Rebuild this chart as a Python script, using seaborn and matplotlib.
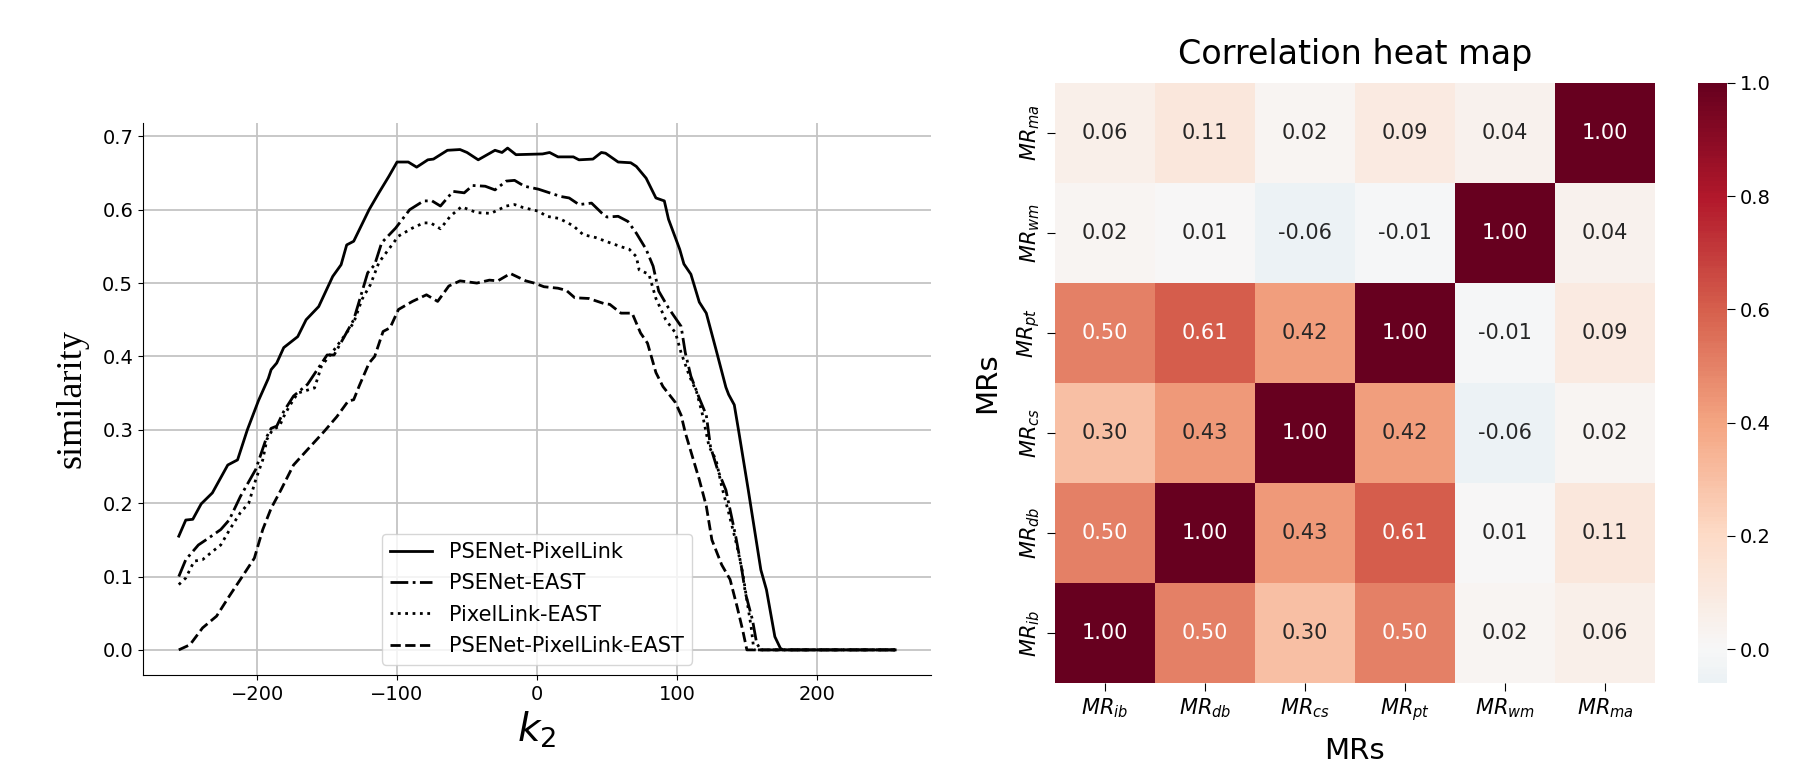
import matplotlib
matplotlib.use("Agg")
import matplotlib.pyplot as plt
import numpy as np
import pandas as pd
import seaborn as sns

# --- left panel: similarity vs k2 ---
pp_k = [-256, -251, -246, -240, -232, -221, -214, -207, -199, -192, -190, -186, -181, -171, -165, -156,
        -146, -140, -136, -131, -120, -113, -106, -100, -92, -86, -78, -74, -64, -55, -50, -42, -30, -25,
        -21, -15, 4, 9, 15, 26, 30, 40, 46, 49, 58, 67, 71, 78, 85, 91, 94, 102, 105, 110, 116, 121,
        128, 135, 137, 141, 144, 151, 160, 164, 170, 174, 176, 256]
pp_sim = [0.155, 0.177, 0.178, 0.199, 0.214, 0.252, 0.259, 0.300, 0.340, 0.370, 0.382, 0.391, 0.412,
          0.427, 0.450, 0.468, 0.509, 0.525, 0.552, 0.557, 0.600, 0.623, 0.645, 0.665, 0.665, 0.658,
          0.668, 0.669, 0.681, 0.682, 0.678, 0.668, 0.681, 0.678, 0.684, 0.675, 0.676, 0.678, 0.672,
          0.672, 0.668, 0.669, 0.678, 0.677, 0.665, 0.664, 0.659, 0.643, 0.616, 0.612, 0.587, 0.546,
          0.526, 0.512, 0.474, 0.459, 0.409, 0.358, 0.348, 0.334, 0.300, 0.218, 0.109, 0.082, 0.018,
          0.002, 0.0, 0.0]

pe_k = [-256, -251, -242, -235, -226, -220, -212, -201, -193, -190, -186, -181, -174, -164, -150, -145,
        -131, -126, -121, -116, -111, -101, -91, -81, -75, -69, -60, -52, -46, -37, -30, -22, -16, -9,
        1, 9, 17, 23, 30, 39, 46, 50, 58, 65, 71, 78, 83, 87, 94, 103, 106, 110, 116, 121, 124, 129,
        135, 138, 142, 146, 149, 154, 157, 160, 256]
pe_sim = [0.100, 0.123, 0.143, 0.152, 0.164, 0.177, 0.209, 0.246, 0.291, 0.302, 0.305, 0.325, 0.346,
          0.362, 0.402, 0.402, 0.450, 0.482, 0.514, 0.525, 0.555, 0.575, 0.600, 0.612, 0.612, 0.605,
          0.625, 0.623, 0.633, 0.632, 0.627, 0.639, 0.640, 0.632, 0.628, 0.623, 0.618, 0.616, 0.607,
          0.609, 0.596, 0.590, 0.591, 0.584, 0.568, 0.546, 0.523, 0.489, 0.466, 0.441, 0.405, 0.373,
          0.343, 0.320, 0.277, 0.246, 0.218, 0.191, 0.155, 0.114, 0.077, 0.041, 0.009, 0.0, 0.0]

le_k = [-256, -251, -245, -239, -232, -226, -219, -212, -206, -201, -196, -193, -189, -184, -181, -177,
        -171, -159, -154, -145, -138, -131, -125, -119, -113, -106, -99, -89, -81, -76, -69, -62, -54,
        -43, -33, -22, -16, -10, 1, 7, 16, 26, 33, 42, 52, 61, 66, 71, 73, 80, 85, 92, 99, 103, 109,
        114, 118, 123, 128, 132, 137, 143, 147, 150, 153, 155, 256]
le_sim = [0.089, 0.098, 0.121, 0.123, 0.134, 0.143, 0.166, 0.187, 0.200, 0.232, 0.259, 0.287, 0.300,
          0.305, 0.318, 0.332, 0.350, 0.357, 0.387, 0.409, 0.427, 0.446, 0.478, 0.498, 0.528, 0.546,
          0.564, 0.575, 0.582, 0.582, 0.574, 0.591, 0.604, 0.596, 0.595, 0.605, 0.607, 0.603, 0.598,
          0.591, 0.588, 0.578, 0.566, 0.562, 0.555, 0.549, 0.546, 0.536, 0.518, 0.512, 0.479, 0.450,
          0.432, 0.405, 0.373, 0.352, 0.323, 0.277, 0.259, 0.223, 0.187, 0.141, 0.105, 0.068, 0.032,
          0.0, 0.0]

ple_k = [-256, -248, -239, -229, -220, -212, -202, -196, -190, -183, -174, -164, -152, -143, -135, -131,
         -127, -120, -116, -110, -105, -99, -89, -79, -71, -63, -55, -43, -34, -28, -19, -8, -2, 5, 15,
         21, 27, 37, 48, 52, 60, 68, 74, 79, 85, 90, 99, 103, 106, 111, 116, 121, 125, 132, 138, 143,
         147, 150, 256]
ple_sim = [0.0, 0.007, 0.030, 0.046, 0.073, 0.096, 0.125, 0.164, 0.193, 0.218, 0.252, 0.273, 0.298,
           0.318, 0.339, 0.341, 0.360, 0.391, 0.400, 0.434, 0.439, 0.464, 0.475, 0.484, 0.475, 0.496,
           0.503, 0.500, 0.504, 0.503, 0.513, 0.503, 0.500, 0.495, 0.493, 0.490, 0.480, 0.479, 0.472,
           0.471, 0.459, 0.459, 0.432, 0.418, 0.378, 0.359, 0.337, 0.320, 0.296, 0.264, 0.232, 0.196,
           0.150, 0.116, 0.096, 0.059, 0.027, 0.0, 0.0]

series_names = ["PSENet-PixelLink", "PSENet-EAST", "PixelLink-EAST", "PSENet-PixelLink-EAST"]

# --- right panel: correlation matrix ---
mr_labels = ["$MR_{ib}$", "$MR_{db}$", "$MR_{cs}$", "$MR_{pt}$", "$MR_{wm}$", "$MR_{ma}$"]
corr_ib = [1.00, 0.50, 0.30, 0.50, 0.02, 0.06]
corr_db = [0.50, 1.00, 0.43, 0.61, 0.01, 0.11]
corr_cs = [0.30, 0.43, 1.00, 0.42, -0.06, 0.02]
corr_pt = [0.50, 0.61, 0.42, 1.00, -0.01, 0.09]
corr_wm = [0.02, 0.01, -0.06, -0.01, 1.00, 0.04]
corr_ma = [0.06, 0.11, 0.02, 0.09, 0.04, 1.00]

fig = plt.figure(figsize=(18.12, 7.62), dpi=100)
ax1 = fig.add_axes([0.0789, 0.1142, 0.4349, 0.7244])
ax2 = fig.add_axes([0.5822, 0.1037, 0.3311, 0.7874])
cax = fig.add_axes([0.9371, 0.1037, 0.016, 0.7874])

line_data = [(pp_k, pp_sim, "-"), (pe_k, pe_sim, "-."), (le_k, le_sim, ":"), (ple_k, ple_sim, "--")]
for name, (k, sim, ls) in zip(series_names, line_data):
    sns.lineplot(x=k, y=sim, ax=ax1, color="k", lw=2, linestyle=ls, label=name, estimator=None)

ax1.legend(loc="lower center", fontsize=15, labelspacing=0.55)
ax1.set_xticks([-200, -100, 0, 100, 200])
ax1.set_yticks([0.0, 0.1, 0.2, 0.3, 0.4, 0.5, 0.6, 0.7])
ax1.grid(True, color="#c4c4c4", lw=1.3)
ax1.set_axisbelow(True)
ax1.spines["top"].set_visible(False)
ax1.spines["right"].set_visible(False)
ax1.tick_params(labelsize=14)
ax1.set_xlabel("$k_2$", fontsize=28)
ax1.set_ylabel("similarity", family="Liberation Serif", fontsize=26, labelpad=10)

corr = pd.DataFrame([corr_ib, corr_db, corr_cs, corr_pt, corr_wm, corr_ma],
                    index=mr_labels, columns=mr_labels)
# ib row at the bottom, as in the reference
sns.heatmap(corr.iloc[::-1], ax=ax2, cbar_ax=cax, cmap="RdBu_r", center=0,
            annot=True, fmt=".2f", annot_kws={"fontsize": 15})
ax2.set_title("Correlation heat map", fontsize=24, pad=14)
ax2.set_xlabel("MRs", fontsize=21, labelpad=10)
ax2.set_ylabel("MRs", fontsize=21, labelpad=10)
ax2.tick_params(labelsize=15, length=6)
cax.tick_params(labelsize=14, length=6)

plt.savefig("out.png", dpi=100)
